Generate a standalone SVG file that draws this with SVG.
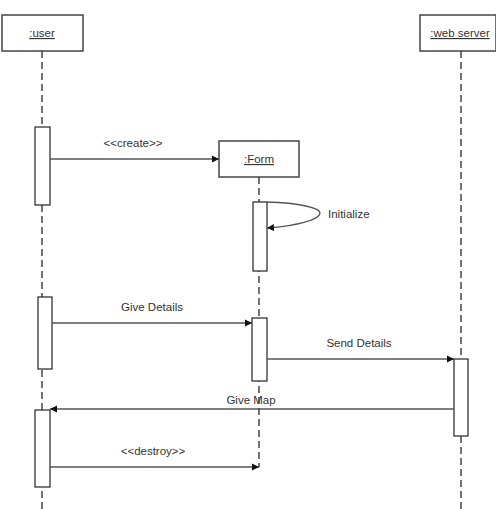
<svg xmlns="http://www.w3.org/2000/svg" width="496" height="509" viewBox="0 0 496 509">
<style>
.box{fill:#fff;stroke:#444;stroke-width:1.5}
.act{fill:#fff;stroke:#333;stroke-width:1.3}
.life{stroke:#444;stroke-width:1.5;stroke-dasharray:7 4;fill:none}
.msg{stroke:#555;stroke-width:1.3;fill:none}
text{font-family:"Liberation Sans",Arial,sans-serif;font-size:11.5px;fill:#333}
.name{text-anchor:middle;text-decoration:underline}
.lbl{text-anchor:middle}
</style>
<defs>
<marker id="ah" markerWidth="8" markerHeight="8" refX="7" refY="4" orient="auto" markerUnits="userSpaceOnUse">
<path d="M0,0.5 L7,4 L0,7.5 Z" fill="#111"/>
</marker>
</defs>
<g id="lifelines">
<line class="life" x1="42" y1="51" x2="42" y2="509"/>
<line class="life" x1="259" y1="177" x2="259" y2="467"/>
<line class="life" x1="461" y1="51" x2="461" y2="509"/>
</g>
<g id="user">
<rect class="box" x="2" y="15" width="81" height="36"/>
<text class="name" x="42" y="37">:user</text>
</g>
<g id="webserver">
<rect class="box" x="420" y="15" width="76" height="36"/>
<text class="name" x="460" y="37">:web server</text>
</g>
<g id="form">
<rect class="box" x="219" y="141" width="80" height="36"/>
<text class="name" x="259" y="163">:Form</text>
</g>
<g id="activations">
<rect class="act" x="35" y="127" width="15" height="78"/>
<rect class="act" x="253" y="202" width="14" height="69"/>
<rect class="act" x="38" y="297" width="14" height="72"/>
<rect class="act" x="252" y="318" width="15" height="63"/>
<rect class="act" x="454" y="359" width="14" height="77"/>
<rect class="act" x="35" y="410" width="15" height="77"/>
</g>
<g id="connectors">
<line class="msg" x1="50" y1="159" x2="219" y2="159" marker-end="url(#ah)"/>
<path class="msg" d="M267,202 C300,203 320,208 320,213 C320,220 295,226 267,228" marker-end="url(#ah)"/>
<line class="msg" x1="52" y1="323" x2="252" y2="323" marker-end="url(#ah)"/>
<line class="msg" x1="267" y1="359" x2="454" y2="359" marker-end="url(#ah)"/>
<line class="msg" x1="454" y1="409" x2="50" y2="409" marker-end="url(#ah)"/>
<line class="msg" x1="50" y1="467" x2="259" y2="467" marker-end="url(#ah)"/>
</g>
<g id="labels">
<text class="lbl" x="133" y="147">&lt;&lt;create&gt;&gt;</text>
<text x="328" y="218">Initialize</text>
<text class="lbl" x="152" y="311">Give Details</text>
<text class="lbl" x="359" y="347">Send Details</text>
<text class="lbl" x="251" y="404">Give Map</text>
<text class="lbl" x="153" y="455">&lt;&lt;destroy&gt;&gt;</text>
</g>
</svg>
